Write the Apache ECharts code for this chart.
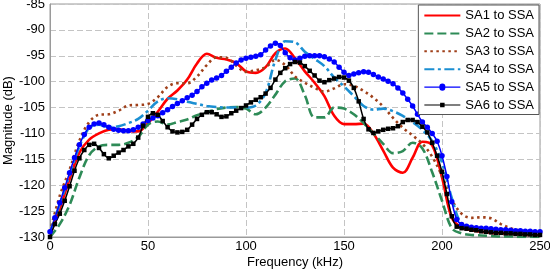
<!DOCTYPE html>
<html>
<head>
<meta charset="utf-8">
<script src="https://cdn.jsdelivr.net/npm/echarts@6/dist/echarts.min.js"></script>
<style>
html,body{margin:0;padding:0;background:#fff;}
#chart{width:550px;height:271px;}
</style>
</head>
<body>
<div id="chart"></div>
<script>
const freq5 = [0,5,10,15,20,25,30,35,40,45,50,55,60,65,70,75,80,85,90,95,100,105,110,115,120,125,130,135,140,145,150,155,160,165,170,175,180,185,190,195,200,205,210,215,220,225,230,235,240,245,250];
const freq2 = [0,2.5,5,7.5,10,12.5,15,17.5,20,22.5,25,27.5,30,32.5,35,37.5,40,42.5,45,47.5,50,52.5,55,57.5,60,62.5,65,67.5,70,72.5,75,77.5,80,82.5,85,87.5,90,92.5,95,97.5,100,102.5,105,107.5,110,112.5,115,117.5,120,122.5,125,127.5,130,132.5,135,137.5,140,142.5,145,147.5,150,152.5,155,157.5,160,162.5,165,167.5,170,172.5,175,177.5,180,182.5,185,187.5,190,192.5,195,197.5,200,202.5,205,207.5,210,212.5,215,217.5,220,222.5,225,227.5,230,232.5,235,237.5,240,242.5,245,247.5,250];

const sa1 = [-129.5,-124.5,-118.8,-113.7,-111.2,-110,-109.3,-109.2,-109.5,-109.6,-108,-105.8,-103.3,-101.7,-99.6,-96.5,-94.6,-95.4,-95.7,-96.4,-98,-98.3,-97.2,-94.5,-93.6,-95.5,-98,-100.2,-102.8,-106.6,-108.2,-108.2,-108.1,-110,-113.3,-116.6,-117.6,-114.7,-111.6,-112.3,-118.5,-126.3,-128.2,-128.7,-129,-129.2,-129.3,-129.4,-129.5,-129.6,-129.7];
const sa2 = [-130,-127.5,-123.8,-118.5,-114.2,-112.5,-112.2,-112.2,-111.8,-110.7,-108.3,-107.7,-108.3,-107.8,-107.3,-106.5,-105.9,-105.3,-105,-104.9,-105.2,-106.3,-105,-102.5,-99.9,-99.4,-102.6,-106.9,-106.9,-105,-105.2,-106.3,-108,-110,-112,-113.8,-113.4,-111.8,-112.9,-117.5,-123,-128.3,-129.3,-129.6,-129.7,-129.8,-129.9,-129.9,-130,-130,-130];
const sa3 = [-129,-122,-117,-111.4,-107.8,-106.4,-106.3,-105.6,-104.6,-104.5,-104.3,-103,-101,-100.3,-100.3,-99,-96.8,-95.3,-95.4,-96.9,-98.1,-97.8,-97.2,-95.8,-96.8,-99,-100.2,-101.2,-101.9,-101.3,-100.5,-100.8,-101.8,-103.1,-104.8,-107,-108.9,-110.4,-112,-114.5,-118.2,-122.8,-125.5,-126.3,-126.2,-126.4,-127.5,-128.3,-128.8,-129.1,-129.3];
const sa4 = [-129.2,-123.6,-118,-112.5,-109,-108.3,-108.8,-108.6,-108,-107.2,-105.6,-103.8,-103.2,-103.4,-103.9,-104.3,-104.7,-104.9,-105,-105,-105,-104.6,-102.2,-95.8,-92.2,-92.4,-94.2,-95.6,-97,-99.2,-100.9,-102.8,-104.7,-105.4,-105.2,-105.7,-106.6,-107.8,-109.3,-111.5,-115.6,-122.5,-127.6,-128.3,-128.6,-128.8,-129,-129.2,-129.3,-129.4,-129.5];
const sa5 = [-129,-126.3,-123.4,-120.5,-117.6,-114.7,-112.2,-110.2,-108.8,-108.2,-108,-108.3,-108.8,-109.2,-109.4,-109.5,-109.5,-109.3,-108.8,-108.2,-107.5,-107,-106.6,-106,-105.4,-104.8,-104.2,-103.7,-103.1,-102.6,-101.9,-101,-100.3,-99.7,-99.3,-98.8,-98,-97.2,-96.4,-95.8,-95.5,-95.3,-95.1,-94.8,-93.9,-93.1,-92.6,-93,-94.4,-95.4,-95.8,-95.5,-95.1,-95,-95,-95,-95.2,-95.6,-96.2,-97.2,-98.2,-98.8,-98.5,-98.3,-98.1,-98.2,-98.6,-99.1,-99.5,-99.9,-100.4,-101.2,-102.2,-103.4,-104.7,-106.3,-107.8,-108.8,-110,-111.5,-114.3,-118.3,-123.2,-126.6,-127.6,-127.9,-128.1,-128.2,-128.3,-128.3,-128.4,-128.5,-128.6,-128.6,-128.7,-128.8,-128.8,-128.9,-128.9,-129,-129];
const sa6 = [-130,-127.5,-125.5,-123,-120.2,-117.2,-114.8,-113.2,-112.2,-112,-112.8,-114,-114.8,-114.3,-113.7,-113.2,-112.5,-112,-110.8,-108.5,-106.8,-106.1,-106.4,-107.6,-108.8,-109.6,-109.8,-109.7,-109.3,-108.3,-107.2,-106.4,-105.9,-105.9,-106.3,-106.8,-106.7,-106.1,-105.6,-105.1,-104.6,-104,-103.5,-103,-102.3,-101.2,-99.6,-98.3,-97.4,-96.6,-96.2,-96.3,-97,-97.9,-98.8,-99.8,-100.1,-99.7,-99.4,-99.1,-99.2,-99.8,-101.2,-103.8,-107.2,-109.2,-109.9,-109.6,-109.3,-109.1,-109,-108.6,-107.8,-107.4,-107.4,-107.8,-108.7,-109.8,-111.8,-114.3,-117.4,-121.7,-126,-128,-128.3,-128.4,-128.6,-128.7,-128.9,-129,-129.1,-129.2,-129.2,-129.3,-129.3,-129.4,-129.4,-129.5,-129.5,-129.6,-129.6];

const seriesNames = ['SA1 to SSA','SA2 to SSA','SA3 to SSA','SA4 to SSA','SA5 to SSA','SA6 to SSA'];
const xTicks = [0,50,100,150,200,250];
const yTicks = [-130,-125,-120,-115,-110,-105,-100,-95,-90,-85];

function pairs(xs, ys){ return ys.map((v,i)=>[xs[i], v]); }

// legend icons for marker series: thin line with a small marker in the middle (36 x 6 box)
const iconCircle = 'path://M0,2.4 L15,2.4 A3,3 0 0 1 21,2.4 L36,2.4 L36,3.6 L21,3.6 A3,3 0 0 1 15,3.6 L0,3.6 Z';
const iconSquare = 'path://M0,2.45 L15.75,2.45 L15.75,0.75 L20.25,0.75 L20.25,2.45 L36,2.45 L36,3.55 L20.25,3.55 L20.25,5.25 L15.75,5.25 L15.75,3.55 L0,3.55 Z';

const FONT = 'Liberation Sans, Arial, Helvetica, sans-serif';
const chart = echarts.init(document.getElementById('chart'), null, {renderer:'canvas'});
chart.setOption({
  animation:false,
  backgroundColor:'#fff',
  textStyle:{fontFamily:FONT},
  grid:{left:50, right:10, top:4, bottom:34, containLabel:false, outerBoundsMode:'none',
        show:true, borderColor:'#9a9a9a', borderWidth:1, backgroundColor:'transparent'},
  legend:{
    orient:'vertical', right:11, top:5,
    padding:[4,5,3,5], itemGap:4.9, itemWidth:36, itemHeight:12,
    backgroundColor:'#fff', borderColor:'#555', borderWidth:1,
    textStyle:{fontSize:13, color:'#000', fontFamily:FONT},
    data:[
      {name:seriesNames[0], itemStyle:{opacity:0}},
      {name:seriesNames[1], itemStyle:{opacity:0}},
      {name:seriesNames[2], itemStyle:{opacity:0}},
      {name:seriesNames[3], itemStyle:{opacity:0}},
      {name:seriesNames[4], icon:iconCircle},
      {name:seriesNames[5], icon:iconSquare}
    ]
  },
  xAxis:{
    type:'value', min:xTicks[0], max:xTicks[xTicks.length-1], interval:50,
    name:'Frequency (kHz)', nameLocation:'middle', nameGap:19, nameMoveOverlap:false,
    nameTextStyle:{fontSize:13, color:'#000', fontFamily:FONT},
    axisLine:{show:true, onZero:false, lineStyle:{color:'#9a9a9a'}},
    axisTick:{show:false},
    axisLabel:{fontSize:13, color:'#000', margin:3, fontFamily:FONT},
    splitLine:{show:true, lineStyle:{color:'#c4c4c4', type:[6,3], width:1}}
  },
  yAxis:{
    type:'value', min:yTicks[0], max:yTicks[yTicks.length-1], interval:5,
    name:'Magnitude (dB)', nameLocation:'middle', nameGap:35, nameMoveOverlap:false,
    nameTextStyle:{fontSize:13, color:'#000', fontFamily:FONT},
    axisLine:{show:true, onZero:false, lineStyle:{color:'#9a9a9a'}},
    axisTick:{show:false},
    axisLabel:{fontSize:13, color:'#000', margin:5, fontFamily:FONT},
    splitLine:{show:true, lineStyle:{color:'#c4c4c4', type:[6,3], width:1}}
  },
  series:[
    {name:seriesNames[0], type:'line', data:pairs(freq5, sa1), smooth:0.35, symbol:'none',
     lineStyle:{color:'#ff0000', width:2.6}, itemStyle:{color:'#ff0000'}},
    {name:seriesNames[1], type:'line', data:pairs(freq5, sa2), smooth:0.35, symbol:'none',
     lineStyle:{color:'#2e8b57', width:2.6, type:[9,4]}, itemStyle:{color:'#2e8b57'}},
    {name:seriesNames[2], type:'line', data:pairs(freq5, sa3), smooth:0.35, symbol:'none',
     lineStyle:{color:'#a0401a', width:2.6, type:[2.5,3.5]}, itemStyle:{color:'#a0401a'}},
    {name:seriesNames[3], type:'line', data:pairs(freq5, sa4), smooth:0.35, symbol:'none',
     lineStyle:{color:'#1b8fd2', width:2.6, type:[10,3.5,3,3.5]}, itemStyle:{color:'#1b8fd2'}},
    {name:seriesNames[4], type:'line', data:pairs(freq2, sa5), smooth:0.3, symbol:'circle', symbolSize:5.5, showAllSymbol:true,
     lineStyle:{color:'#0000ff', width:1.5}, itemStyle:{color:'#0000ff'}},
    {name:seriesNames[5], type:'line', data:pairs(freq2, sa6), smooth:0.3, symbol:'rect', symbolSize:4.5, showAllSymbol:true,
     lineStyle:{color:'#000000', width:1.5}, itemStyle:{color:'#000000'}}
  ]
});
</script>
</body>
</html>
